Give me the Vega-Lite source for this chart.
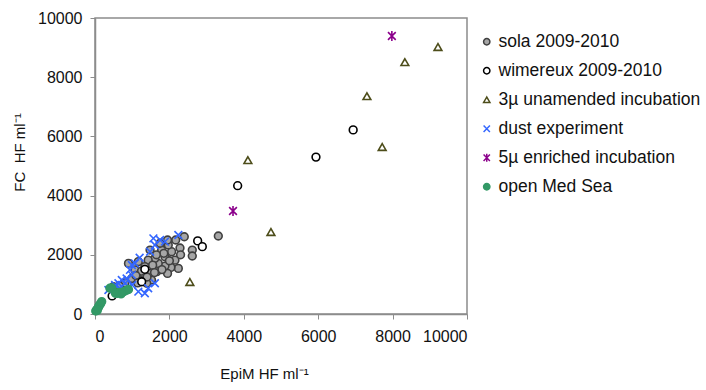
{
  "$schema": "https://vega.github.io/schema/vega-lite/v6.json",
  "width": 372,
  "height": 296,
  "autosize": "none",
  "padding": {"left": 95, "top": 18, "right": 239, "bottom": 76},
  "background": "white",
  "config": {
    "font": "Liberation Sans",
    "view": {"stroke": "#8c8c8c", "strokeWidth": 1.5},
    "axis": {"grid": false, "domainColor": "#8c8c8c", "domainWidth": 1.5, "tickColor": "#8c8c8c", "tickSize": 5, "labelFontSize": 16, "labelColor": "#111", "titleFontSize": 15, "titleFontWeight": "normal", "titleColor": "#111", "labelFont": "Liberation Sans", "titleFont": "Liberation Sans"}
  },
  "data": {"values": [
    {"s": "sola 2009-2010", "x": 3315, "y": 2635},
    {"s": "sola 2009-2010", "x": 2400, "y": 2610},
    {"s": "sola 2009-2010", "x": 2170, "y": 2500},
    {"s": "sola 2009-2010", "x": 2285, "y": 2230},
    {"s": "sola 2009-2010", "x": 2615, "y": 2160},
    {"s": "sola 2009-2010", "x": 2615, "y": 1960},
    {"s": "sola 2009-2010", "x": 2060, "y": 2105},
    {"s": "sola 2009-2010", "x": 1880, "y": 1935},
    {"s": "sola 2009-2010", "x": 2150, "y": 1820},
    {"s": "sola 2009-2010", "x": 2240, "y": 1540},
    {"s": "sola 2009-2010", "x": 2040, "y": 1575},
    {"s": "sola 2009-2010", "x": 1880, "y": 1620},
    {"s": "sola 2009-2010", "x": 1700, "y": 1710},
    {"s": "sola 2009-2010", "x": 1660, "y": 1430},
    {"s": "sola 2009-2010", "x": 1950, "y": 1370},
    {"s": "sola 2009-2010", "x": 1480, "y": 2160},
    {"s": "sola 2009-2010", "x": 1610, "y": 1880},
    {"s": "sola 2009-2010", "x": 1430, "y": 1820},
    {"s": "sola 2009-2010", "x": 1340, "y": 1600},
    {"s": "sola 2009-2010", "x": 1165, "y": 1770},
    {"s": "sola 2009-2010", "x": 1075, "y": 1490},
    {"s": "sola 2009-2010", "x": 1300, "y": 1260},
    {"s": "sola 2009-2010", "x": 1480, "y": 1370},
    {"s": "sola 2009-2010", "x": 1520, "y": 1150},
    {"s": "sola 2009-2010", "x": 1390, "y": 1040},
    {"s": "sola 2009-2010", "x": 1790, "y": 2160},
    {"s": "sola 2009-2010", "x": 1970, "y": 2330},
    {"s": "sola 2009-2010", "x": 1750, "y": 2390},
    {"s": "sola 2009-2010", "x": 1210, "y": 1150},
    {"s": "sola 2009-2010", "x": 990, "y": 1200},
    {"s": "sola 2009-2010", "x": 900, "y": 1710},
    {"s": "sola 2009-2010", "x": 490, "y": 920},
    {"s": "sola 2009-2010", "x": 1850, "y": 2050},
    {"s": "sola 2009-2010", "x": 1550, "y": 1650},
    {"s": "sola 2009-2010", "x": 1250, "y": 1450},
    {"s": "sola 2009-2010", "x": 1100, "y": 1300},
    {"s": "sola 2009-2010", "x": 2000, "y": 1800},
    {"s": "sola 2009-2010", "x": 1800, "y": 1500},
    {"s": "sola 2009-2010", "x": 1600, "y": 1400},
    {"s": "sola 2009-2010", "x": 1400, "y": 1250},
    {"s": "sola 2009-2010", "x": 1650, "y": 2000},
    {"s": "sola 2009-2010", "x": 1950, "y": 2500},
    {"s": "sola 2009-2010", "x": 2300, "y": 2000},
    {"s": "sola 2009-2010", "x": 1150, "y": 1050},
    {"s": "sola 2009-2010", "x": 800, "y": 1050},
    {"s": "sola 2009-2010", "x": 650, "y": 950},
    {"s": "wimereux 2009-2010", "x": 6940, "y": 6220},
    {"s": "wimereux 2009-2010", "x": 5940, "y": 5300},
    {"s": "wimereux 2009-2010", "x": 3835, "y": 4335},
    {"s": "wimereux 2009-2010", "x": 2760, "y": 2470},
    {"s": "wimereux 2009-2010", "x": 2885, "y": 2275},
    {"s": "wimereux 2009-2010", "x": 1340, "y": 1510},
    {"s": "wimereux 2009-2010", "x": 1255, "y": 1090},
    {"s": "wimereux 2009-2010", "x": 460, "y": 610},
    {"s": "3µ unamended incubation", "x": 9220, "y": 9020},
    {"s": "3µ unamended incubation", "x": 8330, "y": 8510},
    {"s": "3µ unamended incubation", "x": 7310, "y": 7360},
    {"s": "3µ unamended incubation", "x": 7720, "y": 5640},
    {"s": "3µ unamended incubation", "x": 4110, "y": 5200},
    {"s": "3µ unamended incubation", "x": 4730, "y": 2770},
    {"s": "3µ unamended incubation", "x": 2550, "y": 1080},
    {"s": "dust experiment", "x": 1570, "y": 2555},
    {"s": "dust experiment", "x": 1880, "y": 2445},
    {"s": "dust experiment", "x": 2240, "y": 2670},
    {"s": "dust experiment", "x": 1610, "y": 2330},
    {"s": "dust experiment", "x": 1480, "y": 2105},
    {"s": "dust experiment", "x": 1075, "y": 1710},
    {"s": "dust experiment", "x": 940, "y": 1490},
    {"s": "dust experiment", "x": 990, "y": 1320},
    {"s": "dust experiment", "x": 720, "y": 1150},
    {"s": "dust experiment", "x": 630, "y": 1040},
    {"s": "dust experiment", "x": 810, "y": 1040},
    {"s": "dust experiment", "x": 670, "y": 870},
    {"s": "dust experiment", "x": 540, "y": 980},
    {"s": "dust experiment", "x": 900, "y": 920},
    {"s": "dust experiment", "x": 1610, "y": 1040},
    {"s": "dust experiment", "x": 1430, "y": 870},
    {"s": "dust experiment", "x": 1340, "y": 700},
    {"s": "dust experiment", "x": 1165, "y": 755},
    {"s": "dust experiment", "x": 360, "y": 810},
    {"s": "dust experiment", "x": 990, "y": 1655},
    {"s": "dust experiment", "x": 1750, "y": 2500},
    {"s": "dust experiment", "x": 1200, "y": 1900},
    {"s": "dust experiment", "x": 850, "y": 1200},
    {"s": "dust experiment", "x": 1000, "y": 980},
    {"s": "5µ enriched incubation", "x": 7980, "y": 9390},
    {"s": "5µ enriched incubation", "x": 3710, "y": 3480},
    {"s": "open Med Sea", "x": 20, "y": 100},
    {"s": "open Med Sea", "x": 50, "y": 150},
    {"s": "open Med Sea", "x": 80, "y": 200},
    {"s": "open Med Sea", "x": 100, "y": 250},
    {"s": "open Med Sea", "x": 120, "y": 300},
    {"s": "open Med Sea", "x": 150, "y": 350},
    {"s": "open Med Sea", "x": 180, "y": 420},
    {"s": "open Med Sea", "x": 60, "y": 120},
    {"s": "open Med Sea", "x": 400, "y": 870},
    {"s": "open Med Sea", "x": 450, "y": 880},
    {"s": "open Med Sea", "x": 600, "y": 700},
    {"s": "open Med Sea", "x": 650, "y": 730},
    {"s": "open Med Sea", "x": 720, "y": 720},
    {"s": "open Med Sea", "x": 780, "y": 760},
    {"s": "open Med Sea", "x": 850, "y": 800},
    {"s": "open Med Sea", "x": 900, "y": 830},
    {"s": "open Med Sea", "x": 700, "y": 680},
    {"s": "open Med Sea", "x": 550, "y": 700}
  ]},
  "mark": {"type": "point", "size": 60, "strokeWidth": 1.6, "opacity": 1},
  "encoding": {
    "x": {"field": "x", "type": "quantitative", "scale": {"domain": [0, 10000], "nice": false},
      "axis": {"values": [0, 2000, 4000, 6000, 8000, 10000], "format": "d", "title": "EpiM HF ml⁻¹", "titlePadding": 22, "labelPadding": 9, "titleX": 169}},
    "y": {"field": "y", "type": "quantitative", "scale": {"domain": [0, 10000], "nice": false},
      "axis": {"values": [0, 2000, 4000, 6000, 8000, 10000], "format": "d", "title": "FC\u00a0 HF ml⁻¹", "titlePadding": 10, "labelPadding": 8, "titleY": 134}},
    "shape": {"field": "s", "type": "nominal", "sort": null,
      "scale": {"domain": ["sola 2009-2010", "wimereux 2009-2010", "3µ unamended incubation", "dust experiment", "5µ enriched incubation", "open Med Sea"],
        "range": ["circle", "circle", "triangle-up", "M-1,-1L1,1M1,-1L-1,1", "M-1,-1L1,1M1,-1L-1,1M0,-1.3L0,1.3", "circle"]},
      "legend": {"title": null}},
    "fill": {"field": "s", "type": "nominal", "sort": null,
      "scale": {"domain": ["sola 2009-2010", "wimereux 2009-2010", "3µ unamended incubation", "dust experiment", "5µ enriched incubation", "open Med Sea"],
        "range": ["#a6a6a6", "#ffffff", "transparent", "transparent", "transparent", "#339966"]},
      "legend": {"title": null}},
    "stroke": {"field": "s", "type": "nominal", "sort": null,
      "scale": {"domain": ["sola 2009-2010", "wimereux 2009-2010", "3µ unamended incubation", "dust experiment", "5µ enriched incubation", "open Med Sea"],
        "range": ["#404040", "#000000", "#4d4d1a", "#3366ff", "#8b008b", "#339966"]},
      "legend": {"title": null, "orient": "none", "legendX": 383, "legendY": 15, "labelFontSize": 17.5, "labelColor": "#111", "labelFont": "Liberation Sans", "symbolSize": 40, "symbolStrokeWidth": 1.5, "rowPadding": 10, "labelOffset": 3, "labelLimit": 300}}
  }
}
